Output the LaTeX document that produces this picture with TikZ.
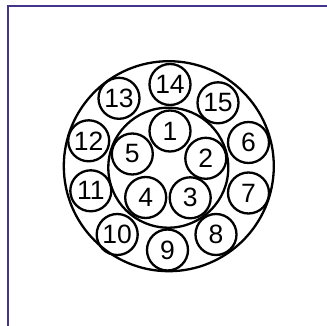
\documentclass[tikz,border=0pt]{standalone}
\usepackage{fontspec}
\setmainfont{Liberation Sans}
\definecolor{framecol}{HTML}{45358A}

\begin{document}
\begin{tikzpicture}[x=1pt,y=-1pt,font=\fontsize{26.5}{26.5}\selectfont,ring/.style={line width=2.3pt},pin/.style={draw,circle,line width=2.3pt,minimum size=41pt,inner sep=0pt}]
\useasboundingbox (0,0) rectangle (327,326);
\draw[framecol,line width=2.6pt] (8,330) -- (8,6) -- (330,6);
\draw[ring] (168.8,166.2) circle[radius=105];
\draw[ring] (168.3,167.7) circle[radius=60];
\node[pin] (p1) at (170,131) {1};
\node[pin] (p2) at (205.8,158.3) {2};
\node[pin] (p3) at (190.2,197.8) {3};
\node[pin] (p4) at (145.7,197.5) {4};
\node[pin] (p5) at (132.3,154) {5};
\node[pin] (p6) at (248.5,142.5) {6};
\node[pin] (p7) at (248.5,193) {7};
\node[pin] (p8) at (216,234.5) {8};
\node[pin] (p9) at (167.5,250) {9};
\node[pin] (p10) at (117.2,234.5) {10};
\node[pin] (p11) at (90.8,190.8) {11};
\node[pin] (p12) at (88.7,140.8) {12};
\node[pin] (p13) at (119,98.3) {13};
\node[pin] (p14) at (170,84.5) {14};
\node[pin] (p15) at (218,102.8) {15};
\end{tikzpicture}
\end{document}
